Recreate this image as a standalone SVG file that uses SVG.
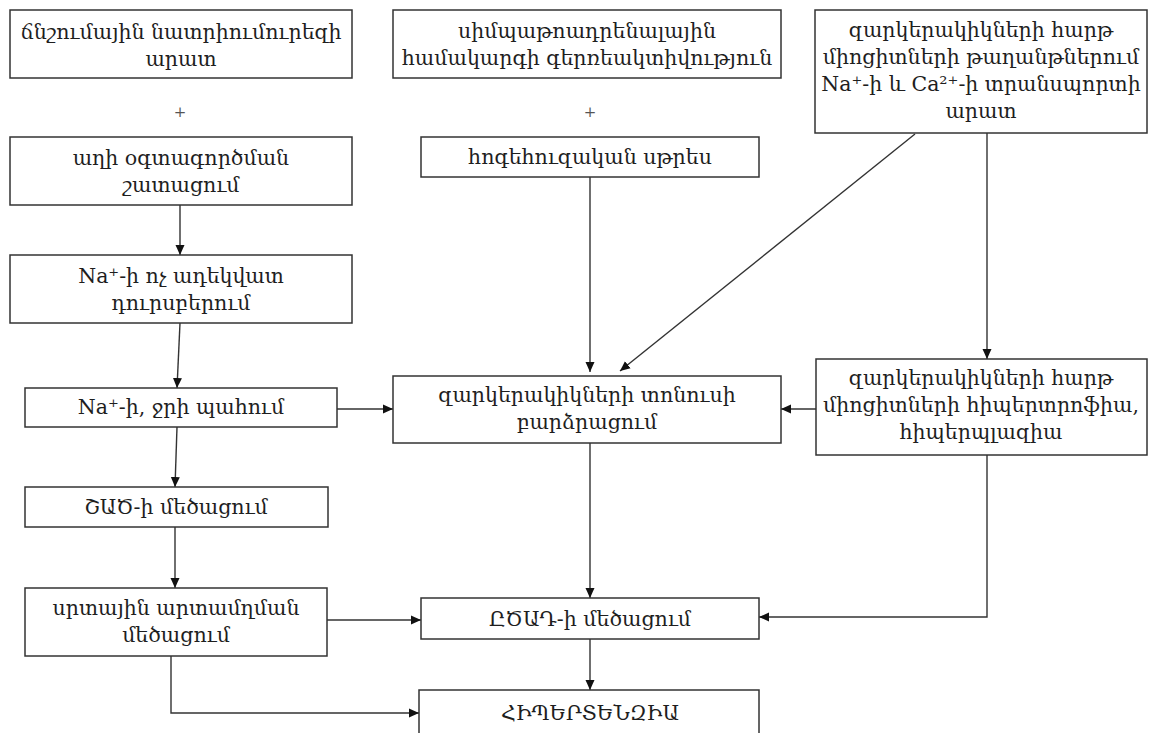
<svg xmlns="http://www.w3.org/2000/svg" width="1152" height="733" viewBox="0 0 1152 733">
  <style>
    .box { fill: #ffffff; stroke: #333333; stroke-width: 1.5; }
    .t { font-family: "DejaVu Serif", "Liberation Serif", serif; font-size: 20.5px; fill: #1e1e1e; text-anchor: middle; }
    .plus { font-family: "DejaVu Serif", serif; font-size: 15px; fill: #555555; text-anchor: middle; }
    .edge { fill: none; stroke: #333333; stroke-width: 1.4; }
  </style>
  <defs>
    <marker id="arrow" viewBox="0 0 10 10" refX="10" refY="5" markerWidth="10" markerHeight="10" markerUnits="userSpaceOnUse" orient="auto">
      <path d="M0,0.5 L10,5 L0,9.5 Z" fill="#111111"/>
    </marker>
  </defs>
  <rect width="1152" height="733" fill="#ffffff"/>

  <g id="connectors">
    <line class="edge" x1="180" y1="205" x2="180" y2="255" marker-end="url(#arrow)"/>
    <line class="edge" x1="180" y1="323" x2="177" y2="388" marker-end="url(#arrow)"/>
    <line class="edge" x1="177" y1="427" x2="175" y2="487" marker-end="url(#arrow)"/>
    <line class="edge" x1="175" y1="527" x2="175" y2="588" marker-end="url(#arrow)"/>
    <line class="edge" x1="337" y1="409" x2="393" y2="409" marker-end="url(#arrow)"/>
    <line class="edge" x1="590" y1="177" x2="590" y2="372" marker-end="url(#arrow)"/>
    <line class="edge" x1="915" y1="134" x2="620" y2="371" marker-end="url(#arrow)"/>
    <line class="edge" x1="987" y1="133" x2="987" y2="359" marker-end="url(#arrow)"/>
    <line class="edge" x1="816" y1="409" x2="781" y2="409" marker-end="url(#arrow)"/>
    <line class="edge" x1="590" y1="443" x2="590" y2="598" marker-end="url(#arrow)"/>
    <polyline class="edge" points="987,455 987,617 759,617" marker-end="url(#arrow)"/>
    <line class="edge" x1="327" y1="620" x2="421" y2="620" marker-end="url(#arrow)"/>
    <polyline class="edge" points="171,656 171,713 419,713" marker-end="url(#arrow)"/>
    <line class="edge" x1="590" y1="639" x2="590" y2="690" marker-end="url(#arrow)"/>
  </g>

  <g id="n1">
    <rect class="box" x="10" y="10" width="342" height="68"/>
    <text class="t" x="181" y="39">ճնշումային նատրիումուրեզի</text>
    <text class="t" x="181" y="66">արատ</text>
  </g>
  <text class="plus" x="180" y="117">+</text>

  <g id="n2">
    <rect class="box" x="393" y="10" width="388" height="68"/>
    <text class="t" x="587" y="38">սիմպաթոադրենալային</text>
    <text class="t" x="587" y="65">համակարգի գերռեակտիվություն</text>
  </g>
  <text class="plus" x="590" y="117">+</text>

  <g id="n3">
    <rect class="box" x="815" y="10" width="332" height="123"/>
    <text class="t" x="981" y="37">զարկերակիկների հարթ</text>
    <text class="t" x="981" y="64">միոցիտների թաղանթներում</text>
    <text class="t" x="981" y="91">Na⁺-ի և Ca²⁺-ի տրանսպորտի</text>
    <text class="t" x="981" y="118">արատ</text>
  </g>

  <g id="n4">
    <rect class="box" x="10" y="137" width="342" height="68"/>
    <text class="t" x="181" y="165">աղի օգտագործման</text>
    <text class="t" x="181" y="192">շատացում</text>
  </g>

  <g id="n5">
    <rect class="box" x="421" y="137" width="338" height="40"/>
    <text class="t" x="590" y="164">հոգեհուզական սթրես</text>
  </g>

  <g id="n6">
    <rect class="box" x="10" y="255" width="342" height="68"/>
    <text class="t" x="181" y="283">Na⁺-ի ոչ ադեկվատ</text>
    <text class="t" x="181" y="310">դուրսբերում</text>
  </g>

  <g id="n7">
    <rect class="box" x="25" y="388" width="312" height="39"/>
    <text class="t" x="181" y="414">Na⁺-ի, ջրի պահում</text>
  </g>

  <g id="n8">
    <rect class="box" x="393" y="376" width="388" height="67"/>
    <text class="t" x="587" y="402">զարկերակիկների տոնուսի</text>
    <text class="t" x="587" y="429">բարձրացում</text>
  </g>

  <g id="n9">
    <rect class="box" x="816" y="359" width="331" height="96"/>
    <text class="t" x="981" y="385">զարկերակիկների հարթ</text>
    <text class="t" x="981" y="412">միոցիտների հիպերտրոֆիա,</text>
    <text class="t" x="981" y="439">հիպերպլազիա</text>
  </g>

  <g id="n10">
    <rect class="box" x="25" y="487" width="303" height="40"/>
    <text class="t" x="176" y="514">ՇԱԾ-ի մեծացում</text>
  </g>

  <g id="n11">
    <rect class="box" x="25" y="588" width="302" height="68"/>
    <text class="t" x="176" y="615">սրտային արտամղման</text>
    <text class="t" x="176" y="642">մեծացում</text>
  </g>

  <g id="n12">
    <rect class="box" x="421" y="598" width="338" height="41"/>
    <text class="t" x="590" y="626">ԸԾԱԴ-ի մեծացում</text>
  </g>

  <g id="n13">
    <rect class="box" x="419" y="690" width="340" height="60"/>
    <text class="t" x="590" y="720">ՀԻՊԵՐՏԵՆԶԻԱ</text>
  </g>
</svg>
